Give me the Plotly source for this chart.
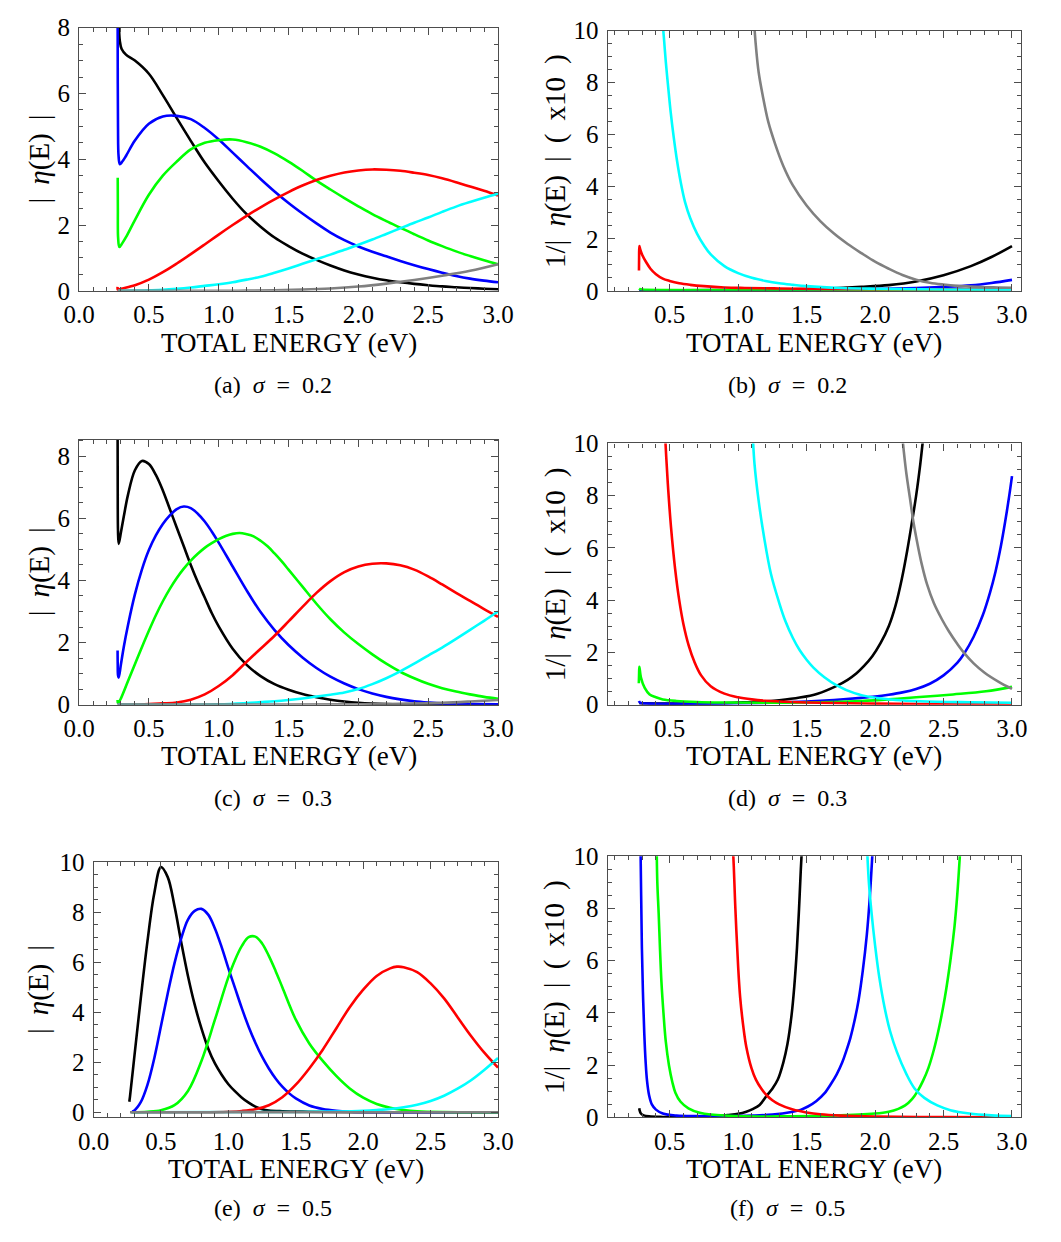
import plotly.graph_objects as go

# ---------------------------------------------------------------------------
# |eta(E)| and 1/|eta(E)| versus total energy for three widths sigma.
# Each curve is stored as (energy, value) pairs.
# ---------------------------------------------------------------------------

# (a) sigma = 0.2, |eta(E)|
A_BLACK_E = [0.277, 0.281, 0.286, 0.292, 0.305, 0.336, 0.4, 0.5, 0.6, 0.7, 0.8, 0.9, 1.0, 1.1, 1.2, 1.3, 1.4, 1.5, 1.6, 1.7, 1.8, 1.9, 2.0, 2.1, 2.2, 2.3, 2.4, 2.5, 2.6, 2.7, 2.8, 2.9, 3.0]
A_BLACK_Y = [9.0, 8.5, 8.0, 7.6, 7.35, 7.18, 7.0, 6.6, 5.95, 5.25, 4.56, 3.9, 3.33, 2.8, 2.33, 1.95, 1.62, 1.36, 1.13, 0.94, 0.77, 0.62, 0.50, 0.40, 0.32, 0.26, 0.21, 0.17, 0.135, 0.11, 0.085, 0.065, 0.05]
A_BLUE_E = [0.276, 0.277, 0.279, 0.283, 0.292, 0.31, 0.336, 0.4, 0.5, 0.6, 0.7, 0.8, 0.9, 1.0, 1.1, 1.2, 1.3, 1.4, 1.5, 1.6, 1.7, 1.8, 1.9, 2.0, 2.1, 2.2, 2.3, 2.4, 2.5, 2.6, 2.7, 2.8, 2.9, 3.0]
A_BLUE_Y = [9.0, 7.0, 5.0, 4.1, 3.85, 3.93, 4.1, 4.57, 5.08, 5.30, 5.32, 5.22, 4.95, 4.6, 4.2, 3.8, 3.4, 3.02, 2.67, 2.35, 2.05, 1.77, 1.54, 1.35, 1.19, 1.05, 0.91, 0.78, 0.66, 0.55, 0.45, 0.37, 0.31, 0.26]
A_GREEN_E = [0.277, 0.278, 0.28, 0.289, 0.31, 0.336, 0.4, 0.5, 0.6, 0.7, 0.8, 0.9, 1.0, 1.1, 1.2, 1.3, 1.4, 1.5, 1.6, 1.7, 1.8, 1.9, 2.0, 2.1, 2.2, 2.3, 2.4, 2.5, 2.6, 2.7, 2.8, 2.9, 3.0]
A_GREEN_Y = [3.44, 2.5, 1.6, 1.33, 1.45, 1.63, 2.15, 2.92, 3.5, 3.93, 4.3, 4.5, 4.58, 4.6, 4.52, 4.38, 4.18, 3.93, 3.65, 3.35, 3.08, 2.82, 2.57, 2.33, 2.12, 1.92, 1.72, 1.53, 1.36, 1.2, 1.06, 0.93, 0.81]
A_RED_E = [0.276, 0.278, 0.30, 0.4, 0.5, 0.6, 0.7, 0.8, 0.9, 1.0, 1.1, 1.2, 1.3, 1.4, 1.5, 1.6, 1.7, 1.8, 1.9, 2.0, 2.1, 2.2, 2.3, 2.4, 2.5, 2.6, 2.7, 2.8, 2.9, 3.0]
A_RED_Y = [0.12, 0.03, 0.06, 0.17, 0.34, 0.565, 0.83, 1.115, 1.41, 1.71, 2.0, 2.28, 2.54, 2.78, 3.0, 3.2, 3.37, 3.5, 3.6, 3.66, 3.69, 3.68, 3.65, 3.59, 3.52, 3.42, 3.30, 3.17, 3.04, 2.90]
A_CYAN_E = [0.278, 0.4, 0.5, 0.6, 0.7, 0.8, 0.9, 1.0, 1.1, 1.2, 1.3, 1.4, 1.5, 1.6, 1.7, 1.8, 1.9, 2.0, 2.1, 2.2, 2.3, 2.4, 2.5, 2.6, 2.7, 2.8, 2.9, 3.0]
A_CYAN_Y = [0.0, 0.005, 0.015, 0.03, 0.06, 0.1, 0.15, 0.2, 0.26, 0.34, 0.43, 0.55, 0.68, 0.82, 0.96, 1.1, 1.25, 1.4, 1.56, 1.73, 1.9, 2.07, 2.23, 2.4, 2.56, 2.7, 2.83, 2.95]
A_GRAY_E = [0.278, 1.0, 1.2, 1.4, 1.6, 1.8, 2.0, 2.2, 2.4, 2.6, 2.8, 3.0]
A_GRAY_Y = [0.0, 0.0, 0.005, 0.015, 0.035, 0.07, 0.13, 0.22, 0.33, 0.46, 0.61, 0.81]

# (b) sigma = 0.2, 1/|eta(E)| (x10)
B_BLACK_E = [0.278, 0.6, 0.9, 1.2, 1.5, 1.7, 1.9, 2.1, 2.3, 2.5, 2.7, 2.85, 3.0]
B_BLACK_Y = [0.02, 0.02, 0.03, 0.045, 0.07, 0.1, 0.15, 0.22, 0.36, 0.6, 0.95, 1.3, 1.72]
B_BLUE_E = [0.278, 1.0, 1.5, 2.0, 2.3, 2.5, 2.7, 2.85, 3.0]
B_BLUE_Y = [0.01, 0.02, 0.03, 0.07, 0.11, 0.15, 0.21, 0.3, 0.42]
B_GREEN_E = [0.276, 0.28, 0.3, 0.5, 1.0, 2.0, 2.5, 3.0]
B_GREEN_Y = [0.08, 0.07, 0.05, 0.03, 0.02, 0.02, 0.03, 0.06]
B_RED_E = [0.276, 0.277, 0.279, 0.285, 0.30, 0.33, 0.36, 0.4, 0.45, 0.5, 0.57, 0.65, 0.75, 0.9, 1.05, 1.3, 1.6, 2.0, 2.5, 3.0]
B_RED_Y = [0.78, 1.3, 1.72, 1.6, 1.38, 1.09, 0.85, 0.64, 0.47, 0.38, 0.29, 0.23, 0.18, 0.13, 0.11, 0.09, 0.07, 0.06, 0.06, 0.06]
B_CYAN_E = [0.446, 0.46, 0.472, 0.49, 0.507, 0.53, 0.554, 0.58, 0.613, 0.65, 0.7, 0.75, 0.8, 0.9, 1.0, 1.1, 1.2, 1.3, 1.4, 1.5, 1.75, 2.0, 2.5, 3.0]
B_CYAN_Y = [10.5, 9.6, 8.8, 7.8, 6.9, 5.9, 5.0, 4.2, 3.4, 2.8, 2.2, 1.75, 1.4, 0.95, 0.68, 0.5, 0.38, 0.29, 0.23, 0.18, 0.11, 0.08, 0.05, 0.04]
B_GRAY_E = [1.114, 1.13, 1.15, 1.18, 1.22, 1.27, 1.33, 1.4, 1.5, 1.6, 1.7, 1.8, 1.9, 2.0, 2.1, 2.2, 2.3, 2.4, 2.5, 2.6, 2.7, 2.8, 2.9, 3.0]
B_GRAY_Y = [10.5, 9.4, 8.4, 7.5, 6.5, 5.65, 4.8, 4.05, 3.28, 2.68, 2.2, 1.8, 1.45, 1.12, 0.85, 0.61, 0.43, 0.31, 0.24, 0.19, 0.16, 0.14, 0.13, 0.12]

# (c) sigma = 0.3, |eta(E)|
C_BLACK_E = [0.276, 0.277, 0.279, 0.284, 0.30, 0.32, 0.35, 0.4, 0.45, 0.5, 0.55, 0.6, 0.65, 0.7, 0.75, 0.8, 0.85, 0.9, 0.95, 1.0, 1.1, 1.2, 1.3, 1.4, 1.5, 1.6, 1.7, 1.8, 1.9, 2.0, 2.2, 2.6, 3.0]
C_BLACK_Y = [9.0, 7.0, 5.6, 5.18, 5.55, 6.05, 6.75, 7.55, 7.85, 7.75, 7.4, 6.9, 6.3, 5.7, 5.1, 4.5, 3.95, 3.45, 2.95, 2.52, 1.8, 1.28, 0.92, 0.66, 0.48, 0.34, 0.24, 0.16, 0.1, 0.06, 0.02, 0.005, 0.0]
C_BLUE_E = [0.276, 0.277, 0.279, 0.284, 0.30, 0.32, 0.35, 0.4, 0.45, 0.5, 0.55, 0.6, 0.65, 0.7, 0.75, 0.8, 0.85, 0.9, 0.95, 1.0, 1.1, 1.2, 1.3, 1.4, 1.5, 1.6, 1.7, 1.8, 1.9, 2.0, 2.1, 2.2, 2.3, 2.4, 2.5, 2.6, 2.8, 3.0]
C_BLUE_Y = [1.74, 1.3, 0.95, 0.87, 1.3, 1.85, 2.55, 3.55, 4.35, 4.98, 5.45, 5.82, 6.1, 6.3, 6.38, 6.33, 6.15, 5.9, 5.58, 5.22, 4.45, 3.68, 2.98, 2.4, 1.92, 1.52, 1.18, 0.9, 0.68, 0.5, 0.36, 0.25, 0.17, 0.11, 0.07, 0.04, 0.02, 0.01]
C_GREEN_E = [0.276, 0.278, 0.285, 0.3, 0.35, 0.4, 0.45, 0.5, 0.55, 0.6, 0.65, 0.7, 0.75, 0.8, 0.85, 0.9, 0.95, 1.0, 1.05, 1.1, 1.15, 1.2, 1.25, 1.3, 1.35, 1.4, 1.45, 1.5, 1.6, 1.7, 1.8, 1.9, 2.0, 2.1, 2.2, 2.3, 2.4, 2.5, 2.6, 2.7, 2.8, 2.9, 3.0]
C_GREEN_Y = [0.15, 0.06, 0.08, 0.2, 0.75, 1.3, 1.85, 2.38, 2.88, 3.33, 3.73, 4.08, 4.38, 4.64, 4.86, 5.05, 5.2, 5.33, 5.43, 5.5, 5.53, 5.49, 5.42, 5.28, 5.1, 4.87, 4.62, 4.35, 3.8, 3.25, 2.75, 2.32, 1.95, 1.62, 1.32, 1.06, 0.85, 0.67, 0.53, 0.42, 0.33, 0.25, 0.19]
C_RED_E = [0.276, 0.4, 0.5, 0.6, 0.7, 0.8, 0.9, 1.0, 1.1, 1.2, 1.3, 1.4, 1.5, 1.6, 1.7, 1.8, 1.9, 2.0, 2.1, 2.2, 2.3, 2.4, 2.5, 2.6, 2.7, 2.8, 2.9, 3.0]
C_RED_Y = [0.0, 0.0, 0.02, 0.04, 0.07, 0.16, 0.33, 0.6, 0.95, 1.38, 1.8, 2.22, 2.68, 3.15, 3.6, 3.98, 4.27, 4.45, 4.54, 4.55, 4.49, 4.35, 4.13, 3.87, 3.6, 3.34, 3.08, 2.83]
C_CYAN_E = [0.276, 1.0, 1.2, 1.3, 1.4, 1.5, 1.6, 1.7, 1.8, 1.9, 2.0, 2.1, 2.2, 2.3, 2.4, 2.5, 2.6, 2.7, 2.8, 2.9, 3.0]
C_CYAN_Y = [0.0, 0.01, 0.05, 0.08, 0.11, 0.15, 0.2, 0.26, 0.32, 0.39, 0.5, 0.66, 0.85, 1.07, 1.32, 1.58, 1.84, 2.12, 2.41, 2.7, 3.0]
C_GRAY_E = [0.276, 1.5, 2.0, 2.3, 2.6, 2.8, 3.0]
C_GRAY_Y = [0.0, 0.0, 0.01, 0.03, 0.06, 0.10, 0.15]

# (d) sigma = 0.3, 1/|eta(E)| (x10)
D_BLACK_E = [0.278, 0.5, 0.8, 1.0, 1.15, 1.3, 1.45, 1.58, 1.72, 1.80, 1.865, 1.92, 1.98, 2.04, 2.10, 2.15, 2.195, 2.235, 2.27, 2.30, 2.33, 2.355]
D_BLACK_Y = [0.05, 0.04, 0.05, 0.08, 0.11, 0.17, 0.27, 0.42, 0.72, 0.95, 1.2, 1.48, 1.85, 2.35, 3.0, 3.8, 4.8, 5.9, 7.0, 8.0, 9.2, 10.4]
D_BLUE_E = [0.276, 0.278, 0.29, 0.35, 0.5, 1.0, 1.3, 1.5, 1.7, 1.9, 2.0, 2.1, 2.2, 2.3, 2.4, 2.5, 2.6, 2.65, 2.72, 2.785, 2.84, 2.88, 2.92, 2.95, 2.98, 3.0]
D_BLUE_Y = [0.14, 0.12, 0.06, 0.04, 0.03, 0.05, 0.08, 0.12, 0.18, 0.26, 0.31, 0.38, 0.47, 0.6, 0.8, 1.12, 1.6, 1.95, 2.6, 3.4, 4.3, 5.1, 6.1, 7.0, 8.0, 8.75]
D_GREEN_E = [0.275, 0.277, 0.279, 0.29, 0.318, 0.354, 0.4, 0.45, 0.55, 0.7, 0.9, 1.2, 1.6, 1.9, 2.1, 2.3, 2.57, 2.81, 3.0]
D_GREEN_Y = [0.82, 1.2, 1.45, 1.05, 0.64, 0.39, 0.28, 0.2, 0.14, 0.1, 0.08, 0.07, 0.09, 0.14, 0.2, 0.28, 0.39, 0.51, 0.68]
D_RED_E = [0.465, 0.475, 0.49, 0.51, 0.54, 0.57, 0.6, 0.64, 0.68, 0.73, 0.8, 0.9, 1.0, 1.1, 1.2, 1.4, 1.6, 2.0, 2.5, 3.0]
D_RED_Y = [10.5, 9.5, 8.2, 6.8, 5.2, 4.0, 3.1, 2.25, 1.65, 1.12, 0.7, 0.42, 0.28, 0.2, 0.15, 0.1, 0.07, 0.04, 0.02, 0.01]
D_CYAN_E = [1.105, 1.12, 1.15, 1.19, 1.24, 1.3, 1.345, 1.4, 1.45, 1.5, 1.55, 1.63, 1.72, 1.85, 1.98, 2.15, 2.33, 2.7, 3.0]
D_CYAN_Y = [10.5, 9.2, 7.8, 6.4, 5.0, 3.9, 3.2, 2.55, 2.08, 1.72, 1.42, 1.05, 0.74, 0.44, 0.28, 0.18, 0.13, 0.09, 0.07]
D_GRAY_E = [2.195, 2.21, 2.23, 2.255, 2.28, 2.31, 2.34, 2.38, 2.43, 2.49, 2.54, 2.6, 2.65, 2.72, 2.8, 2.9, 3.0]
D_GRAY_Y = [10.5, 9.7, 8.8, 7.9, 7.0, 6.15, 5.4, 4.6, 3.88, 3.25, 2.8, 2.33, 1.98, 1.58, 1.22, 0.88, 0.6]

# (e) sigma = 0.5, |eta(E)|
E_BLACK_E = [0.265, 0.27, 0.3, 0.35, 0.4, 0.45, 0.5, 0.55, 0.6, 0.65, 0.7, 0.75, 0.8, 0.85, 0.9, 0.95, 1.0, 1.05, 1.1, 1.15, 1.2, 1.25, 1.3, 1.4, 1.6, 2.0, 3.0]
E_BLACK_Y = [0.42, 0.62, 2.1, 4.55, 6.85, 8.75, 9.8, 9.4, 8.25, 6.8, 5.45, 4.3, 3.35, 2.55, 1.95, 1.5, 1.12, 0.83, 0.58, 0.38, 0.22, 0.12, 0.07, 0.04, 0.02, 0.0, 0.0]
E_BLUE_E = [0.285, 0.3, 0.35, 0.4, 0.45, 0.5, 0.55, 0.6, 0.65, 0.7, 0.75, 0.8, 0.85, 0.9, 0.95, 1.0, 1.05, 1.1, 1.15, 1.2, 1.25, 1.3, 1.35, 1.4, 1.45, 1.5, 1.6, 1.7, 1.8, 1.9, 2.0, 2.2, 3.0]
E_BLUE_Y = [0.03, 0.06, 0.4, 1.1, 2.15, 3.45, 4.75, 5.95, 6.95, 7.7, 8.05, 8.13, 7.9, 7.35, 6.6, 5.75, 4.95, 4.15, 3.42, 2.78, 2.22, 1.75, 1.35, 1.02, 0.76, 0.55, 0.27, 0.13, 0.06, 0.025, 0.01, 0.0, 0.0]
E_GREEN_E = [0.285, 0.4, 0.5, 0.6, 0.7, 0.8, 0.9, 1.0, 1.05, 1.1, 1.15, 1.2, 1.25, 1.3, 1.35, 1.4, 1.5, 1.6, 1.7, 1.8, 1.9, 2.0, 2.1, 2.2, 2.3, 2.4, 2.6, 3.0]
E_GREEN_Y = [0.0, 0.02, 0.08, 0.28, 0.85, 2.05, 3.7, 5.4, 6.1, 6.65, 7.0, 7.02, 6.75, 6.25, 5.65, 5.0, 3.7, 2.75, 2.05, 1.45, 0.95, 0.58, 0.33, 0.18, 0.09, 0.04, 0.01, 0.0]
E_RED_E = [0.28, 0.8, 1.0, 1.1, 1.2, 1.3, 1.4, 1.5, 1.6, 1.7, 1.8, 1.9, 2.0, 2.1, 2.2, 2.25, 2.3, 2.4, 2.5, 2.6, 2.7, 2.8, 2.9, 3.0]
E_RED_Y = [0.0, 0.0, 0.02, 0.05, 0.12, 0.28, 0.6, 1.1, 1.75, 2.5, 3.35, 4.2, 4.9, 5.45, 5.75, 5.82, 5.8, 5.6, 5.15, 4.55, 3.8, 3.05, 2.37, 1.78]
E_CYAN_E = [0.28, 1.5, 1.8, 2.0, 2.1, 2.2, 2.3, 2.4, 2.5, 2.6, 2.7, 2.8, 2.9, 3.0]
E_CYAN_Y = [0.0, 0.01, 0.03, 0.06, 0.09, 0.13, 0.2, 0.3, 0.45, 0.66, 0.94, 1.28, 1.7, 2.17]
E_GRAY_E = [0.27, 1.0, 2.0, 3.0]
E_GRAY_Y = [0.0, 0.0, 0.0, 0.0]

# (f) sigma = 0.5, 1/|eta(E)| (x10)
F_BLACK_E = [0.278, 0.282, 0.29, 0.31, 0.35, 0.45, 0.6, 0.75, 0.85, 0.92, 1.0, 1.06, 1.11, 1.157, 1.21, 1.25, 1.29, 1.33, 1.36, 1.39, 1.41, 1.43, 1.445, 1.458, 1.468]
F_BLACK_Y = [0.35, 0.25, 0.15, 0.08, 0.04, 0.02, 0.02, 0.03, 0.05, 0.09, 0.14, 0.22, 0.33, 0.48, 0.84, 1.1, 1.45, 2.1, 2.8, 3.9, 5.0, 6.5, 8.0, 9.5, 10.5]
F_BLUE_E = [0.287, 0.292, 0.297, 0.305, 0.315, 0.325, 0.335, 0.35, 0.37, 0.40, 0.45, 0.55, 0.7, 0.9, 1.1, 1.25, 1.39, 1.46, 1.51, 1.57, 1.63, 1.68, 1.72, 1.76, 1.79, 1.82, 1.85, 1.88, 1.91, 1.94, 1.96, 1.985]
F_BLUE_Y = [10.5, 8.5, 6.6, 4.8, 3.2, 2.1, 1.4, 0.85, 0.5, 0.3, 0.15, 0.07, 0.05, 0.05, 0.07, 0.11, 0.21, 0.30, 0.42, 0.62, 0.92, 1.3, 1.65, 2.1, 2.55, 3.05, 3.7, 4.5, 5.6, 7.0, 8.3, 10.5]
F_GREEN_E = [0.405, 0.41, 0.42, 0.43, 0.44, 0.455, 0.472, 0.495, 0.52, 0.542, 0.58, 0.637, 0.72, 0.80, 1.04, 1.3, 1.7, 2.0, 2.10, 2.17, 2.22, 2.27, 2.31, 2.35, 2.39, 2.43, 2.47, 2.51, 2.55, 2.58, 2.60, 2.625]
F_GREEN_Y = [10.5, 9.0, 7.8, 6.4, 5.2, 4.0, 2.9, 2.0, 1.35, 0.95, 0.6, 0.35, 0.18, 0.11, 0.04, 0.04, 0.07, 0.15, 0.22, 0.33, 0.46, 0.7, 1.0, 1.4, 1.9, 2.6, 3.5, 4.6, 6.0, 7.3, 8.5, 10.5]
F_RED_E = [0.958, 0.965, 0.98, 1.0, 1.015, 1.04, 1.06, 1.097, 1.13, 1.17, 1.21, 1.25, 1.3, 1.4, 1.5, 1.6, 1.75, 2.0, 2.5, 3.0]
F_RED_Y = [10.5, 10.0, 8.0, 5.8, 4.6, 3.4, 2.7, 1.9, 1.45, 1.1, 0.84, 0.66, 0.5, 0.3, 0.19, 0.12, 0.07, 0.035, 0.015, 0.01]
F_CYAN_E = [1.94, 1.955, 1.975, 2.0, 2.03, 2.07, 2.11, 2.16, 2.23, 2.29, 2.36, 2.455, 2.55, 2.69, 2.85, 3.0]
F_CYAN_Y = [10.5, 9.0, 7.8, 6.6, 5.4, 4.2, 3.3, 2.5, 1.65, 1.1, 0.75, 0.46, 0.28, 0.15, 0.08, 0.05]

# Tick values / labels and captions
X_TICKS = [0.0, 0.5, 1.0, 1.5, 2.0, 2.5, 3.0]
Y_TICKS = [0, 2, 4, 6, 8, 10]
CAPTIONS = ["(a)\u2002<i>σ</i>\u2002=\u20020.2", "(b)\u2002<i>σ</i>\u2002=\u20020.2",
            "(c)\u2002<i>σ</i>\u2002=\u20020.3", "(d)\u2002<i>σ</i>\u2002=\u20020.3",
            "(e)\u2002<i>σ</i>\u2002=\u20020.5", "(f)\u2002<i>σ</i>\u2002=\u20020.5"]
X_TITLE = "TOTAL ENERGY (eV)"
Y_TITLE_ETA = "|\u2009 <i>η</i>(E) \u2009|"
Y_TITLE_INV = "1/|\u2009 <i>η</i>(E) \u2009|\u2009 (\u2009 x10\u2009 )"

COLORS = {"black": "#000000", "blue": "#0000ff", "green": "#00ff00",
          "red": "#ff0000", "cyan": "#00ffff", "gray": "#808080"}

PANELS = [
    {"curves": [("black", A_BLACK_E, A_BLACK_Y), ("blue", A_BLUE_E, A_BLUE_Y), ("green", A_GREEN_E, A_GREEN_Y),
                ("red", A_RED_E, A_RED_Y), ("cyan", A_CYAN_E, A_CYAN_Y), ("gray", A_GRAY_E, A_GRAY_Y)],
     "box": (65, 497, 15, 284), "xr": [0, 3], "yr": [0, 8], "ytitle": Y_TITLE_ETA},
    {"curves": [("black", B_BLACK_E, B_BLACK_Y), ("blue", B_BLUE_E, B_BLUE_Y), ("green", B_GREEN_E, B_GREEN_Y),
                ("red", B_RED_E, B_RED_Y), ("cyan", B_CYAN_E, B_CYAN_Y), ("gray", B_GRAY_E, B_GRAY_Y)],
     "box": (610, 1036, 18, 284), "xr": [0.047, 3.064], "yr": [0, 10], "ytitle": Y_TITLE_INV},
    {"curves": [("black", C_BLACK_E, C_BLACK_Y), ("blue", C_BLUE_E, C_BLUE_Y), ("green", C_GREEN_E, C_GREEN_Y),
                ("red", C_RED_E, C_RED_Y), ("cyan", C_CYAN_E, C_CYAN_Y), ("gray", C_GRAY_E, C_GRAY_Y)],
     "box": (65, 497, 436, 707), "xr": [0, 3], "yr": [0, 8.54], "ytitle": Y_TITLE_ETA},
    {"curves": [("black", D_BLACK_E, D_BLACK_Y), ("blue", D_BLUE_E, D_BLUE_Y), ("green", D_GREEN_E, D_GREEN_Y),
                ("red", D_RED_E, D_RED_Y), ("cyan", D_CYAN_E, D_CYAN_Y), ("gray", D_GRAY_E, D_GRAY_Y)],
     "box": (610, 1036, 440, 707), "xr": [0.047, 3.064], "yr": [0, 10], "ytitle": Y_TITLE_INV},
    {"curves": [("black", E_BLACK_E, E_BLACK_Y), ("blue", E_BLUE_E, E_BLUE_Y), ("green", E_GREEN_E, E_GREEN_Y),
                ("red", E_RED_E, E_RED_Y), ("cyan", E_CYAN_E, E_CYAN_Y), ("gray", E_GRAY_E, E_GRAY_Y)],
     "box": (80, 497, 868, 1129), "xr": [0, 3], "yr": [-0.21, 10], "ytitle": Y_TITLE_ETA},
    {"curves": [("black", F_BLACK_E, F_BLACK_Y), ("blue", F_BLUE_E, F_BLUE_Y), ("green", F_GREEN_E, F_GREEN_Y),
                ("red", F_RED_E, F_RED_Y), ("cyan", F_CYAN_E, F_CYAN_Y)],
     "box": (610, 1036, 862, 1129), "xr": [0.047, 3.064], "yr": [0, 10], "ytitle": Y_TITLE_INV},
]

W, H = 1061, 1242
SERIF = "Liberation Serif"
FRAME = "#4d4d4d"

fig = go.Figure()
layout = dict(width=W, height=H, margin=dict(l=0, r=0, t=0, b=0),
              paper_bgcolor="white", plot_bgcolor="white", showlegend=False,
              annotations=[])

CAPTION_Y = [380, 380, 802, 802, 1222, 1222]
XTITLE_Y = [337, 337, 759, 759, 1182, 1182]

for i, p in enumerate(PANELS):
    n = "" if i == 0 else str(i + 1)
    x0, x1, y0, y1 = p["box"]
    for color, xs, ys in p["curves"]:
        fig.add_trace(go.Scatter(x=xs, y=ys, mode="lines", xaxis="x" + n, yaxis="y" + n,
                                 line=dict(color=COLORS[color], width=2.6, shape="spline", smoothing=1.0),
                                 hoverinfo="skip"))
    common = dict(showline=True, linecolor=FRAME, linewidth=1.2, mirror="allticks",
                  ticks="inside", ticklen=7, tickwidth=1, tickcolor=FRAME,
                  showgrid=False, zeroline=False,
                  tickfont=dict(family=SERIF, size=25, color="black"))
    layout["xaxis" + n] = dict(common, domain=[x0 / W, x1 / W], range=p["xr"], anchor="y" + n,
                               tickvals=X_TICKS, ticktext=["%.1f" % v for v in X_TICKS],
                               ticklabelstandoff=1,
                               minor=dict(ticks="inside", ticklen=4, tickcolor=FRAME, dtick=0.1, tick0=0))
    layout["yaxis" + n] = dict(common, domain=[1 - y1 / H, 1 - y0 / H], range=p["yr"], anchor="x" + n,
                               tickvals=Y_TICKS, ticktext=[str(v) for v in Y_TICKS],
                               ticklabelstandoff=3,
                               minor=dict(ticks="inside", ticklen=4, tickcolor=FRAME, dtick=0.5, tick0=0))
    col_c = 265 if i % 2 == 0 else 795
    layout["annotations"] += [
        dict(text=X_TITLE, x=(x0 + x1) / 2 / W, y=1 - XTITLE_Y[i] / H, xref="paper", yref="paper",
             showarrow=False, xanchor="center", yanchor="middle",
             font=dict(family=SERIF, size=27, color="black")),
        dict(text=p["ytitle"], x=(24 if i % 2 == 0 else 556) / W, y=1 - (y0 + y1) / 2 / H,
             xref="paper", yref="paper", showarrow=False, textangle=-90,
             xanchor="center", yanchor="middle",
             font=dict(family=SERIF, size=29, color="black")),
        dict(text=CAPTIONS[i], x=col_c / W, y=1 - CAPTION_Y[i] / H, xref="paper", yref="paper",
             showarrow=False, xanchor="center", yanchor="middle",
             font=dict(family=SERIF, size=24, color="black")),
    ]

fig.update_layout(**layout)
fig.write_html("out.html")
